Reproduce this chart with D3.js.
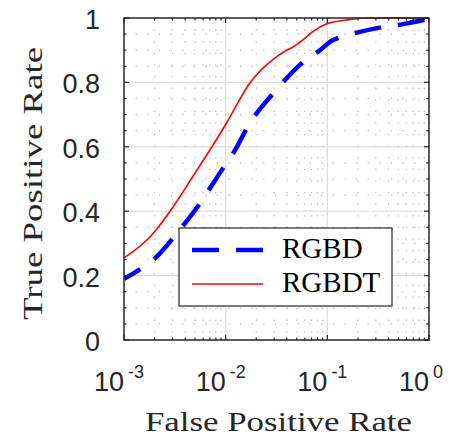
<!DOCTYPE html>
<html>
<head>
<meta charset="utf-8">
<script src="https://cdn.jsdelivr.net/npm/d3@7"></script>
<style>
  body { margin: 0; background: #fff; }
  svg { display: block; }
  .serif { font-family: "Liberation Serif", "Times New Roman", Times, serif; }
  .sans { font-family: "Liberation Sans", Arial, Helvetica, sans-serif; }
</style>
</head>
<body>
<div id="chart"></div>
<script>
// values
const fprRGBD = [0.001, 0.00149, 0.0021, 0.0033, 0.0056, 0.00755, 0.00985, 0.0124, 0.0161, 0.0202,
    0.0294, 0.0398, 0.0603, 0.0847, 0.106, 0.138, 0.209, 0.369, 0.555, 1];
const tprRGBD = [0.19, 0.223, 0.259, 0.331, 0.425, 0.487, 0.543, 0.59, 0.657, 0.704,
    0.766, 0.813, 0.868, 0.90, 0.926, 0.942, 0.957, 0.973, 0.981, 0.998];

const fprRGBDT = [0.001, 0.0018, 0.00305, 0.0048, 0.007, 0.0102, 0.0173, 0.0318, 0.0398, 0.046,
    0.0575, 0.072, 0.099, 0.156, 0.245, 0.5, 1];
const tprRGBDT = [0.255, 0.32, 0.414, 0.51, 0.59, 0.674, 0.798, 0.88, 0.90, 0.91,
    0.932, 0.958, 0.982, 0.994, 1.0, 1.0, 1.0];

const xTicks = [1e-3, 1e-2, 1e-1, 1];
const xTickExp = ["-3", "-2", "-1", "0"];
const yTicks = [0, 0.2, 0.4, 0.6, 0.8, 1];
const yTickLabels = ["0", "0.2", "0.4", "0.6", "0.8", "1"];
const seriesNames = ["RGBD", "RGBDT"];

const W = 456, H = 441;
const margin = { top: 18, right: 27, bottom: 101, left: 124 };
const width = W - margin.left - margin.right;
const height = H - margin.top - margin.bottom;
const axisColor = "#262626";

const svg = d3.select("#chart").append("svg")
    .attr("width", W)
    .attr("height", H);

const g = svg.append("g")
    .attr("transform", `translate(${margin.left},${margin.top})`);

const x = d3.scaleLog().domain([1e-3, 1]).range([0, width]);
const y = d3.scaleLinear().domain([0, 1]).range([height, 0]);

// minor positions
const xMinor = [];
for (let k = -3; k < 0; k++) {
    for (let m = 2; m <= 9; m++) xMinor.push(m * Math.pow(10, k));
}
const yMinor = d3.range(1, 20).map(i => i * 0.05).filter(v => Math.round(v * 100) % 20 !== 0);

// grid
const grid = g.append("g");
grid.selectAll(".gx-minor").data(xMinor).join("line")
    .attr("x1", d => x(d)).attr("x2", d => x(d))
    .attr("y1", 0).attr("y2", height)
    .attr("stroke", "#b8b8b8").attr("stroke-width", 1.2)
    .attr("stroke-dasharray", "1.3,10.3");
grid.selectAll(".gy-minor").data(yMinor).join("line")
    .attr("x1", 0).attr("x2", width)
    .attr("y1", d => y(d)).attr("y2", d => y(d))
    .attr("stroke", "#b8b8b8").attr("stroke-width", 1.2)
    .attr("stroke-dasharray", "1.3,10.3");
grid.selectAll(".gx").data(xTicks.slice(1, -1)).join("line")
    .attr("x1", d => x(d)).attr("x2", d => x(d))
    .attr("y1", 0).attr("y2", height)
    .attr("stroke", "#dedede").attr("stroke-width", 1.3);
grid.selectAll(".gy").data(yTicks.slice(1, -1)).join("line")
    .attr("x1", 0).attr("x2", width)
    .attr("y1", d => y(d)).attr("y2", d => y(d))
    .attr("stroke", "#dedede").attr("stroke-width", 1.3);

// curves
svg.append("defs").append("clipPath").attr("id", "clip")
    .append("rect").attr("width", width).attr("height", height + 1).attr("y", -1);

const line = d3.line()
    .x(d => x(d[0]))
    .y(d => y(d[1]))
    .curve(d3.curveMonotoneX);

const plot = g.append("g").attr("clip-path", "url(#clip)");
plot.append("path")
    .datum(d3.zip(fprRGBDT, tprRGBDT))
    .attr("d", line)
    .attr("fill", "none")
    .attr("stroke", "#ff0000")
    .attr("stroke-width", 1.6);
plot.append("path")
    .datum(d3.zip(fprRGBD, tprRGBD))
    .attr("d", line)
    .attr("fill", "none")
    .attr("stroke", "#0000ff")
    .attr("stroke-width", 4.5)
    .attr("stroke-dasharray", "27,17")
    .attr("stroke-dashoffset", 8);

// axes (box with inward ticks)
const tickMajor = 5, tickMinor = 2.5;
function drawTicks(sel, vals, len, horizontal) {
    vals.forEach(v => {
        if (horizontal) {
            sel.append("line").attr("x1", x(v)).attr("x2", x(v)).attr("y1", height).attr("y2", height - len);
            sel.append("line").attr("x1", x(v)).attr("x2", x(v)).attr("y1", 0).attr("y2", len);
        } else {
            sel.append("line").attr("x1", 0).attr("x2", len).attr("y1", y(v)).attr("y2", y(v));
            sel.append("line").attr("x1", width).attr("x2", width - len).attr("y1", y(v)).attr("y2", y(v));
        }
    });
}
const ticks = g.append("g").attr("stroke", axisColor).attr("stroke-width", 1.2);
drawTicks(ticks, xTicks, tickMajor, true);
drawTicks(ticks, xMinor, tickMinor, true);
drawTicks(ticks, yTicks, tickMajor, false);
drawTicks(ticks, yMinor, tickMinor, false);

g.append("rect")
    .attr("width", width).attr("height", height)
    .attr("fill", "none")
    .attr("stroke", axisColor)
    .attr("stroke-width", 1.5);

// tick labels
const xLab = g.append("g")
    .attr("class", "sans")
    .attr("fill", axisColor);
xTicks.forEach((v, i) => {
    const t = xLab.append("text")
        .attr("x", x(v) - 30)
        .attr("y", height + 51)
        .style("font-size", "27px");
    t.append("tspan").text("10");
    t.append("tspan")
        .attr("dx", 4).attr("dy", -13)
        .style("font-size", "18px")
        .text(xTickExp[i]);
});

g.append("g")
    .attr("class", "sans")
    .style("font-size", "27px")
    .attr("fill", axisColor)
    .attr("text-anchor", "end")
    .selectAll("text").data(yTicks).join("text")
    .attr("x", -24)
    .attr("y", d => y(d) + 11)
    .text((d, i) => yTickLabels[i]);

// axis titles
svg.append("text")
    .attr("class", "serif")
    .attr("x", 278.5).attr("y", 431)
    .attr("text-anchor", "middle")
    .style("font-size", "27px")
    .attr("textLength", 267).attr("lengthAdjust", "spacingAndGlyphs")
    .attr("fill", axisColor)
    .text("False Positive Rate");

svg.append("text")
    .attr("class", "serif")
    .attr("transform", "translate(42,183.5) rotate(-90)")
    .attr("text-anchor", "middle")
    .style("font-size", "27px")
    .attr("textLength", 273).attr("lengthAdjust", "spacingAndGlyphs")
    .attr("fill", axisColor)
    .text("True Positive Rate");

// legend
const legend = svg.append("g").attr("transform", "translate(179,228)");
legend.append("rect")
    .attr("width", 213).attr("height", 78)
    .attr("fill", "#fff")
    .attr("stroke", axisColor)
    .attr("stroke-width", 1.2);
legend.append("line")
    .attr("x1", 13).attr("x2", 84).attr("y1", 22).attr("y2", 22)
    .attr("stroke", "#0000ff").attr("stroke-width", 4.5)
    .attr("stroke-dasharray", "27,17");
legend.append("line")
    .attr("x1", 13).attr("x2", 84).attr("y1", 56).attr("y2", 56)
    .attr("stroke", "#ff0000").attr("stroke-width", 1.6);
legend.selectAll("text").data(seriesNames).join("text")
    .attr("class", "serif")
    .attr("x", 103)
    .attr("y", (d, i) => 30 + i * 34)
    .style("font-size", "29px")
    .attr("fill", "#000")
    .text(d => d);
</script>
</body>
</html>
